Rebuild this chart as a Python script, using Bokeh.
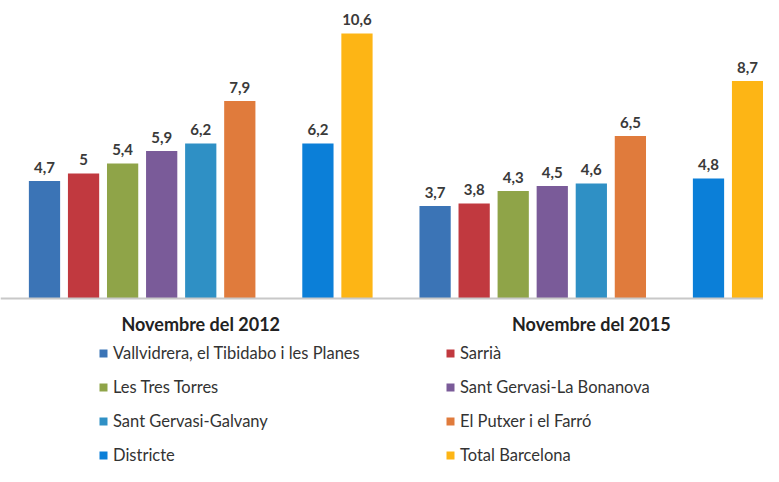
from bokeh.plotting import figure
from bokeh.models import ColumnDataSource, Range1d, FixedTicker, Legend, LegendItem
from bokeh.embed import file_html
from bokeh.resources import INLINE
from bokeh.core.properties import value

# ---- data ----
years = ["Novembre del 2012", "Novembre del 2015"]
series = [
    "Vallvidrera, el Tibidabo i les Planes",
    "Sarrià",
    "Les Tres Torres",
    "Sant Gervasi-La Bonanova",
    "Sant Gervasi-Galvany",
    "El Putxer i el Farró",
    "Districte",
    "Total Barcelona",
]
values_2012 = [4.7, 5.0, 5.4, 5.9, 6.2, 7.9, 6.2, 10.6]
values_2015 = [3.7, 3.8, 4.3, 4.5, 4.6, 6.5, 4.8, 8.7]
colors = ["#3b74b6", "#c1393f", "#8fa448", "#7a5b99", "#2f90c5",
          "#e07b3c", "#0b7fd8", "#fdb515"]

# layout of slots: 6 neighbourhoods, gap, 2 totals; then a gap before next year
N_BARRIS = 6
BLOCK = 10


def slot(g, i):
    return g * BLOCK + i + (1 if i >= N_BARRIS else 0)


def fmt(v):
    return ("%g" % v).replace(".", ",")


FONT = "Lato"
W, H = 763, 466

p = figure(width=W, height=H,
           x_range=Range1d(-1.1265, 18.408), y_range=Range1d(-6.72, 11.92),
           output_backend="svg", toolbar_location=None,
           y_axis_location=None,
           min_border_left=0, min_border_right=0, min_border_top=0,
           min_border_bottom=0)

all_vals = [values_2012, values_2015]
items = []
lab_x, lab_y, lab_t = [], [], []
for i, name in enumerate(series):
    xs = [slot(g, i) for g in range(len(years))]
    ys = [all_vals[g][i] for g in range(len(years))]
    src = ColumnDataSource(dict(x=xs, top=ys))
    r = p.vbar(x="x", top="top", width=0.8, bottom=0, source=src,
               fill_color=colors[i], line_color=None)
    items.append(LegendItem(label=name, renderers=[r]))
    lab_x += xs
    lab_y += ys
    lab_t += [fmt(v) for v in ys]

lsrc = ColumnDataSource(dict(x=lab_x, y=lab_y, t=lab_t))
p.text(x="x", y="y", text="t", source=lsrc, text_align="center",
       text_baseline="alphabetic", y_offset=-14,
       text_font=value(FONT), text_font_size="15px", text_font_style="bold",
       text_color="#3a3a3a")

ax = p.xaxis[0]
ax.fixed_location = 0
ax.ticker = FixedTicker(ticks=[slot(g, 0) + 4 for g in range(len(years))])
ax.major_label_overrides = {slot(g, 0) + 4: years[g] for g in range(len(years))}
ax.major_label_text_font = FONT
ax.major_label_text_font_size = "18px"
ax.major_label_text_font_style = "bold"
ax.major_label_text_color = "#222222"
ax.major_label_standoff = 8
ax.major_tick_line_color = None
ax.minor_tick_line_color = None
ax.axis_line_color = "#c8c8c8"
ax.axis_line_width = 2

p.xgrid.visible = False
p.ygrid.visible = False
p.outline_line_color = None

legend = Legend(items=items, location=(98, 0), orientation="horizontal",
                ncols=2, glyph_width=10, glyph_height=10, label_standoff=5,
                label_width=320, label_height=22, spacing=12, padding=0,
                margin=0, border_line_color=None, background_fill_alpha=0,
                label_text_font=FONT, label_text_font_size="16.5px",
                label_text_color="#333333")
p.add_layout(legend)

open("out.html", "w").write(file_html(p, INLINE))
